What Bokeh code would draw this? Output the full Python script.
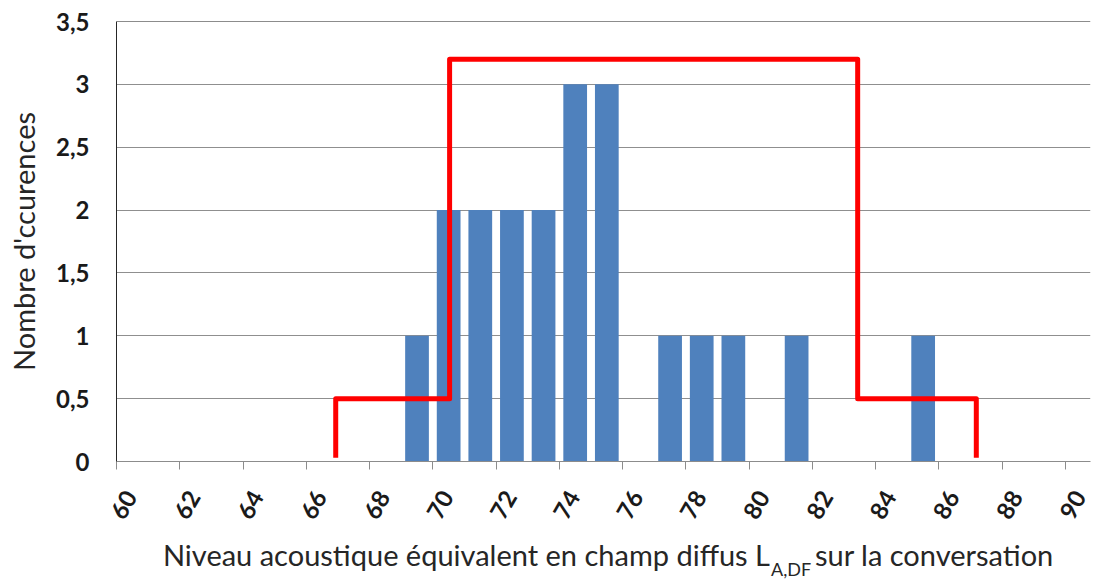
from bokeh.plotting import figure
from bokeh.models import (ColumnDataSource, FixedTicker, CustomJSTickFormatter,
                          Span, Range1d, LinearAxis, Div)
from bokeh.layouts import column
from bokeh.embed import file_html
from bokeh.resources import INLINE

# ---- data ----
bin_centers = [69.5, 70.5, 71.5, 72.5, 73.5, 74.5, 75.5, 77.5, 78.5, 79.5, 81.5, 85.5]
occurrences = [1, 2, 2, 2, 2, 3, 3, 1, 1, 1, 1, 1]
step_x = [66.93, 66.93, 70.53, 70.53, 83.43, 83.43, 87.18, 87.18]
step_y = [0.03, 0.5, 0.5, 3.2, 3.2, 0.5, 0.5, 0.03]
x_ticks = list(range(60, 91, 2))
y_ticks = [0, 0.5, 1, 1.5, 2, 2.5, 3, 3.5]
y_title = "Nombre d'ccurences"
x_title_main = "Niveau acoustique équivalent en champ diffus L"
x_title_sub = "A,DF"
x_title_end = "sur la conversation"

FONT = "Lato"
label_shift = 0.44  # horizontal offset of rotated tick labels (style)

p = figure(width=1093, height=538, output_backend="svg", toolbar_location=None,
           x_range=Range1d(60, 90.79), y_range=Range1d(0, 3.5),
           min_border_left=116, min_border_right=3, min_border_top=21,
           min_border_bottom=77)
p.outline_line_color = None
p.background_fill_color = "white"

src = ColumnDataSource(dict(x=bin_centers, top=occurrences))
p.vbar(x="x", top="top", bottom=0, width=0.75, source=src,
       fill_color="#4F81BD", line_color=None)
p.line(step_x, step_y, line_color="#FF0000", line_width=5, line_join="round")

# grids
p.xgrid.visible = False
p.ygrid.ticker = FixedTicker(ticks=y_ticks)
p.ygrid.grid_line_color = "#8f8f8f"
p.ygrid.grid_line_width = 1
p.add_layout(Span(location=3.5, dimension="width", line_color="#1a1a1a", line_width=1))

# x axis (line + ticks)
xa = p.xaxis[0]
xa.ticker = FixedTicker(ticks=x_ticks)
xa.formatter = CustomJSTickFormatter(code="return '';")
xa.axis_line_color = "#8c8c8c"
xa.major_tick_line_color = "#8c8c8c"
xa.major_tick_out = 8
xa.major_tick_in = 0
xa.minor_tick_line_color = None
xa.major_label_standoff = 0
xa.major_label_text_font_size = "1px"

# x axis tick labels (rotated)
xl = LinearAxis(ticker=FixedTicker(ticks=[t + label_shift for t in x_ticks]),
                formatter=CustomJSTickFormatter(args=dict(shift=label_shift),
                                                code="return String(Math.round(tick - shift));"))
xl.axis_line_color = None
xl.major_tick_line_color = None
xl.minor_tick_line_color = None
xl.major_tick_out = 0
xl.major_tick_in = 0
xl.major_label_orientation = 1.05
xl.major_label_standoff = 23
xl.major_label_text_font = FONT
xl.major_label_text_font_style = "bold"
xl.major_label_text_font_size = "24px"
xl.major_label_text_color = "#1a1a1a"
p.add_layout(xl, "below")

# y axis
ya = p.yaxis[0]
ya.ticker = FixedTicker(ticks=y_ticks)
ya.formatter = CustomJSTickFormatter(code="return tick.toString().replace('.', ',');")
ya.axis_line_color = "#262626"
ya.major_tick_line_color = None
ya.minor_tick_line_color = None
ya.major_tick_out = 0
ya.major_tick_in = 0
ya.major_label_standoff = 27
ya.major_label_text_font = FONT
ya.major_label_text_font_style = "bold"
ya.major_label_text_font_size = "24px"
ya.major_label_text_color = "#1a1a1a"
ya.axis_label = y_title
ya.axis_label_text_font = FONT
ya.axis_label_text_font_style = "normal"
ya.axis_label_text_font_size = "29px"
ya.axis_label_text_color = "#262626"
ya.axis_label_standoff = 12

# x title with subscript (HTML text)
title_html = (
    '<div style="position:relative;width:1093px;height:43px;font-family:Lato;'
    'color:#262626;white-space:nowrap;">'
    f'<span style="position:absolute;right:323px;top:-1px;font-size:29px;line-height:35px;">{x_title_main}</span>'
    f'<span style="position:absolute;left:771px;top:20px;font-size:18px;line-height:22px;">{x_title_sub}</span>'
    f'<span style="position:absolute;left:815px;top:-1px;font-size:29px;line-height:35px;">{x_title_end}</span>'
    '</div>'
)
div = Div(text=title_html, width=1093, height=43, margin=(0, 0, 0, 0))

layout = column(p, div, spacing=0)
open("out.html", "w").write(file_html(layout, INLINE))
